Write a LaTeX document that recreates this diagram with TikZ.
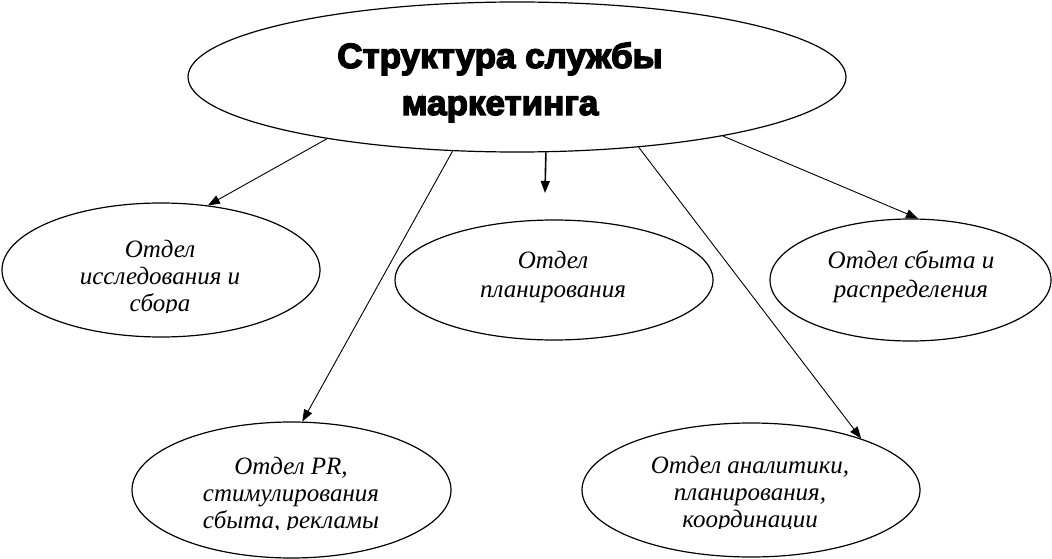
\documentclass[tikz,border=0pt]{standalone}
\usepackage{fontspec}
\setmainfont{Liberation Serif}
\newfontfamily\titlefont[FakeBold=4]{Liberation Sans Bold}
\usetikzlibrary{shapes.geometric,arrows.meta}
\begin{document}
\begin{tikzpicture}[x=1pt,y=-1pt,
  oval/.style={draw, ellipse, line width=1.2pt, inner sep=0pt},
  lbl/.style={align=center, anchor=base, inner sep=0pt, font=\fontsize{25}{27}\selectfont\itshape},
  lblw/.style={lbl, font=\fontsize{25}{28.5}\selectfont\itshape},
  conn/.style={line width=0.9pt, -{Triangle[length=12pt,width=9pt]}}]
\useasboundingbox (0,0) rectangle (1052,559);
% ellipses
\node[oval, minimum width=658, minimum height=150] (top) at (517,77) {};
\node[oval, minimum width=318, minimum height=134] (n1) at (161,270) {};
\node[oval, minimum width=318, minimum height=120] (n2) at (554,280) {};
\node[oval, minimum width=281, minimum height=122] (n3) at (910.5,280) {};
\node[oval, minimum width=319, minimum height=136] (n4) at (291.5,490) {};
\node[oval, minimum width=338, minimum height=134] (n5) at (751,490) {};
% texts (anchor base = baseline of the last line)
\node[align=center, anchor=base, inner sep=0pt, font=\titlefont\fontsize{35}{47}\selectfont] (title) at (500,115) {Структура службы\\маркетинга};
\begin{scope}
\clip (0,0) rectangle (1052,312.5);
\node[lbl] (t1) at (160,311) {Отдел\\исследования и\\сбора};
\end{scope}
\node[lblw] (t2) at (553,297) {Отдел\\планирования};
\node[lblw] (t3) at (911,297) {Отдел сбыта и\\распределения};
\begin{scope}
\clip (0,0) rectangle (1052,529);
\node[lbl] (t4) at (291,528) {Отдел PR,\\стимулирования\\сбыта, рекламы};
\end{scope}
\begin{scope}
\clip (0,0) rectangle (1052,528);
\node[lbl] (t5) at (750,527) {Отдел аналитики,\\планирования,\\координации};
\end{scope}
% connectors
\coordinate (a3end) at (545,193);
\draw[conn] (top.198.25) -- (n1.54.5);
\draw[conn] (top.229.1) -- (n4.81.2);
\draw[conn, line width=1.6pt] (top.-69.5) -- (a3end);
\draw[conn] (top.-30.9) -- (n5.25.5);
\draw[conn] (top.-16.86) -- (n3.83.8);
\end{tikzpicture}
\end{document}
